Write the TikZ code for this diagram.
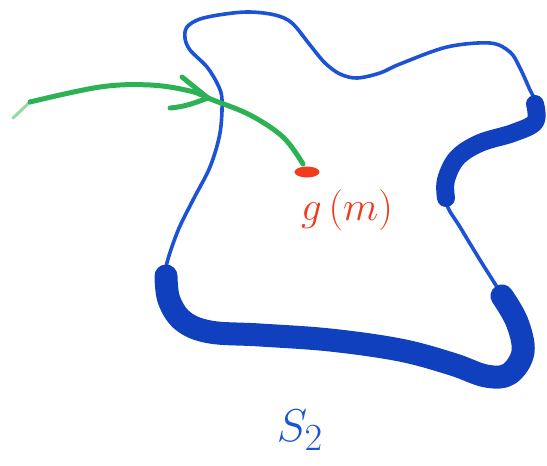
\documentclass[tikz,border=0pt]{standalone}
\usepackage{amsmath}
\usepackage{graphicx}
\usetikzlibrary{shapes.geometric}

\definecolor{penblue}{RGB}{28,82,214}
\definecolor{inkblue}{RGB}{16,64,190}
\definecolor{pengreen}{RGB}{44,178,84}
\definecolor{penred}{RGB}{242,58,30}

\begin{document}
\begin{tikzpicture}[x=1pt, y=-1pt,
		rim/.style={penblue, line width=3.6pt, line cap=round, line join=round},
		fatrim/.style={inkblue, line cap=round, line join=round},
		pen/.style={pengreen, line width=5pt, line cap=round, line join=round}]
		\useasboundingbox (0,0) rectangle (547,466);
		
		% Outline of S_2
		\draw[rim] plot[smooth cycle, tension=0.55] coordinates {
			(187,27) (200,19) (225,14) (250,12) (275,15) (292,23) (310,45) (325,63)
			(340,74) (357,78) (380,73) (400,64) (447,47) (490,43) (510,52) (520,68)
			(530,90) (537,105) (535,124) (513,133) (480,143) (457,158) (445,180)
			(447,205) (460,227) (480,260) (500,292) (517,322) (524,354) (508,376)
			(485,377) (452,364) (400,350) (330,340) (260,335) (210,332) (182,321)
			(168,300) (165,272) (177,233) (193,200) (210,167) (220,133) (222,100)
			(218,85) (207,67) (190,50) (185,38)};
		
		% Heavy strokes
		\draw[fatrim, line width=18pt] plot[smooth, tension=0.6] coordinates {
			(535,104) (535,122) (513,133) (480,143) (457,158) (446,180) (446,198)};
		\draw[fatrim, line width=23pt] plot[smooth, tension=0.6] coordinates {
			(502,296) (517,322) (523,352) (509,374) (486,376) (452,364) (400,350)
			(330,340) (260,335) (210,332) (183,321) (169,300) (166,276)};
		
		% Point and its label
		\node[penred, fill=penred, ellipse, inner sep=0pt, minimum width=25pt,
			minimum height=11pt] (pt) at (307,172) {};
		\node[penred] (gm) at (347,210) {\scalebox{1.65}{\Huge $g\,(m)$}};
		
		% Arrow
		\coordinate (tail) at (30,102);
		\draw[pengreen!50, line width=3pt, line cap=round] (13,118) -- (tail);
		\draw[pen] plot[smooth, tension=0.6] coordinates {
			(tail) (100,87) (150,85) (190,91) (213,100) (250,115) (283,137) (303,164)};
		\draw[pen] (182,77) -- (208,98);
		\draw[pen] (170,108) to[out=5, in=200] (208,98);
		
		% Name of the surface
		\node[penblue] (name) at (300,430) {\scalebox{1.85}{\Huge $S_2$}};
\end{tikzpicture}
\end{document}
